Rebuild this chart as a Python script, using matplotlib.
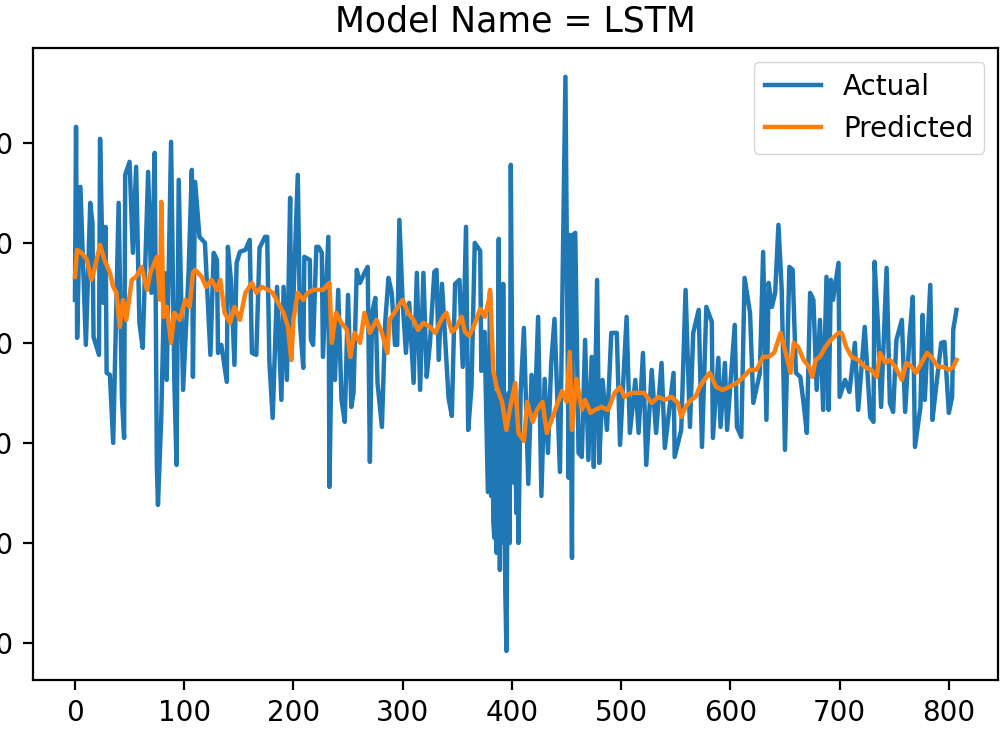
import matplotlib
matplotlib.use("Agg")
import matplotlib.pyplot as plt

# valores (x = indice de muestra)
act_x = [0, 1, 2, 5, 10, 14, 16, 17, 22, 23, 26, 28, 29, 32, 35, 40, 43, 45, 46, 50,
         53, 56, 59, 62, 67, 70, 73, 75, 76, 79, 82, 84, 88, 91, 93, 95, 99, 104, 107, 108,
         110, 114, 119, 124, 127, 130, 131, 134, 139, 140, 143, 146, 148, 151, 156, 160, 162, 166, 169, 174,
         176, 178, 181, 185, 189, 191, 194, 197, 198, 204, 206, 209, 210, 215, 216, 218, 221, 223, 226, 227,
         232, 233, 235, 238, 241, 244, 247, 250, 253, 255, 258, 261, 265, 268, 270, 272, 275, 277, 281, 284,
         287, 290, 293, 295, 297, 300, 303, 306, 310, 313, 316, 319, 322, 325, 329, 331, 333, 336, 342, 345,
         348, 352, 355, 358, 360, 363, 366, 371, 372, 375, 378, 380, 381, 382, 383, 384, 385, 386, 387, 388,
         389, 390, 391, 392, 393, 394, 395, 396, 397, 398, 399, 400, 401, 402, 403, 404, 405, 406, 407, 408,
         411, 415, 418, 421, 424, 427, 430, 433, 436, 439, 444, 449, 452, 453, 455, 456, 458, 461,
         464, 467, 470, 473, 475, 478, 480, 483, 487, 491, 496, 499, 505, 508, 513, 516, 520, 523, 528, 532,
         537, 540, 548, 549, 555, 559, 563, 566, 571, 574, 578, 583, 584, 589, 591, 595, 597, 604, 606, 610,
         613, 618, 621, 627, 630, 633, 635, 638, 641, 644, 647, 650, 654, 657, 660, 664, 667, 670, 673, 676,
         679, 682, 685, 688, 690, 692, 694, 699, 700, 705, 709, 714, 717, 723, 728, 731, 732, 735, 738, 743,
         746, 749, 752, 757, 760, 764, 767, 769, 774, 776, 778, 783, 785, 787, 793, 796, 800, 803, 804, 807]
act_y = [443, 616, 405, 556, 398, 540, 520, 406, 388, 604, 440, 516, 370, 368, 300, 540, 345, 305, 568, 581,
         490, 576, 420, 395, 571, 450, 590, 276, 238, 325, 470, 363, 601, 360, 278, 563, 353, 470, 573, 366,
         561, 506, 500, 388, 490, 483, 390, 398, 361, 496, 460, 378, 480, 491, 493, 503, 390, 388, 495, 506,
         506, 381, 325, 456, 343, 456, 363, 545, 383, 568, 420, 375, 486, 483, 403, 398, 496, 496, 490, 386,
         506, 256, 400, 363, 453, 343, 321, 448, 336, 350, 473, 460, 470, 476, 281, 430, 445, 360, 316, 420,
         465, 450, 398, 398, 523, 440, 390, 440, 360, 470, 353, 470, 366, 400, 471, 473, 383, 459, 345, 327,
         459, 463, 376, 516, 313, 356, 500, 492, 372, 411, 251, 450, 247, 380, 220, 205, 350, 190, 300, 504,
         173, 330, 200, 459, 310, 150, 92, 260, 350, 200, 578, 420, 294, 260, 340, 230, 300, 200, 278, 350,
         415, 259, 368, 329, 426, 247, 364, 290, 380, 424, 271, 666, 265, 508, 185, 508, 510, 290,
         286, 403, 283, 386, 276, 463, 280, 363, 313, 410, 410, 298, 426, 310, 363, 310, 390, 278, 373, 310,
         380, 295, 370, 286, 313, 453, 316, 410, 433, 296, 436, 421, 305, 385, 316, 380, 313, 418, 316, 306,
         465, 430, 340, 370, 491, 323, 460, 436, 450, 518, 453, 293, 476, 473, 370, 366, 340, 310, 450, 443,
         353, 423, 333, 466, 333, 463, 443, 480, 346, 363, 351, 400, 333, 416, 326, 321, 481, 420, 336, 475,
         340, 331, 403, 423, 331, 406, 446, 296, 336, 428, 343, 458, 323, 343, 400, 401, 330, 346, 413, 433]

pred_x = [0, 2, 6, 11, 15, 17, 23, 27, 32, 35, 38, 41, 44, 47, 52, 56, 61, 66, 69, 75,
          78, 79, 81, 84, 88, 91, 96, 101, 105, 108, 110, 116, 120, 125, 130, 133, 137, 142, 146, 151,
          156, 162, 166, 171, 177, 181, 186, 191, 195, 198, 200, 204, 209, 213, 218, 222, 227, 233, 235, 239,
          244, 249, 252, 256, 261, 265, 270, 276, 281, 286, 288, 294, 300, 305, 310, 314, 319, 325, 330, 334,
          337, 340, 345, 349, 354, 357, 361, 366, 371, 375, 379, 380, 383, 386, 391, 395, 398, 403, 406, 411,
          414, 419, 423, 428, 432, 437, 441, 446, 450, 453, 455, 459, 464, 467, 472, 476, 482, 488, 494, 499,
          503, 509, 515, 521, 528, 534, 540, 546, 552, 555, 559, 564, 568, 572, 576, 581, 587, 593, 599, 606,
          612, 618, 624, 630, 635, 640, 646, 650, 655, 658, 662, 667, 672, 675, 678, 682, 687, 692, 695, 699,
          702, 706, 711, 717, 723, 729, 734, 737, 742, 746, 751, 757, 761, 766, 770, 775, 780, 784, 790, 795,
          800, 804, 807]
pred_y = [466, 493, 490, 483, 463, 470, 498, 483, 470, 456, 450, 416, 443, 423, 463, 466, 476, 453, 470, 486,
          443, 541, 426, 436, 400, 430, 423, 443, 436, 470, 473, 466, 456, 463, 453, 463, 430, 420, 436, 423,
          450, 460, 450, 456, 453, 450, 440, 430, 416, 383, 423, 450, 443, 450, 453, 453, 453, 460, 400, 430,
          420, 413, 386, 410, 400, 430, 410, 423, 410, 390, 423, 433, 443, 430, 423, 413, 420, 416, 410, 420,
          426, 430, 411, 415, 426, 411, 407, 419, 434, 426, 443, 453, 372, 356, 341, 313, 333, 360, 310, 302,
          341, 321, 333, 341, 310, 325, 337, 352, 341, 391, 313, 364, 333, 343, 330, 333, 336, 333, 350, 356,
          346, 350, 350, 350, 340, 346, 343, 346, 340, 326, 336, 343, 346, 356, 363, 370, 356, 353, 356, 360,
          366, 373, 373, 386, 386, 390, 410, 393, 370, 400, 396, 383, 376, 366, 383, 386, 396, 403, 406, 410,
          410, 396, 386, 383, 376, 373, 366, 390, 380, 383, 376, 363, 380, 376, 370, 380, 390, 386, 376, 376,
          373, 376, 383]

x_ticks = [0, 100, 200, 300, 400, 500, 600, 700, 800]
y_ticks = [100, 200, 300, 400, 500, 600]

fig = plt.figure(figsize=(10, 7.5), dpi=100)
ax = fig.add_axes([0.033, 0.0933, 0.965, 0.843])

ax.plot(act_x, act_y, color='#1f77b4', lw=3.2, label='Actual')
ax.plot(pred_x, pred_y, color='#ff7f0e', lw=3.2, label='Predicted')

ax.set_xlim(-38.4, 845)
ax.set_ylim(63, 695)
ax.set_xticks(x_ticks)
ax.set_yticks(y_ticks)
ax.tick_params(labelsize=20, length=7, width=1.6, pad=7)
for s in ax.spines.values():
    s.set_linewidth(1.6)

ax.set_title('Model Name = LSTM', fontsize=25, pad=12)
ax.legend(fontsize=20, loc='upper right')

fig.savefig('out.png', dpi=100)
